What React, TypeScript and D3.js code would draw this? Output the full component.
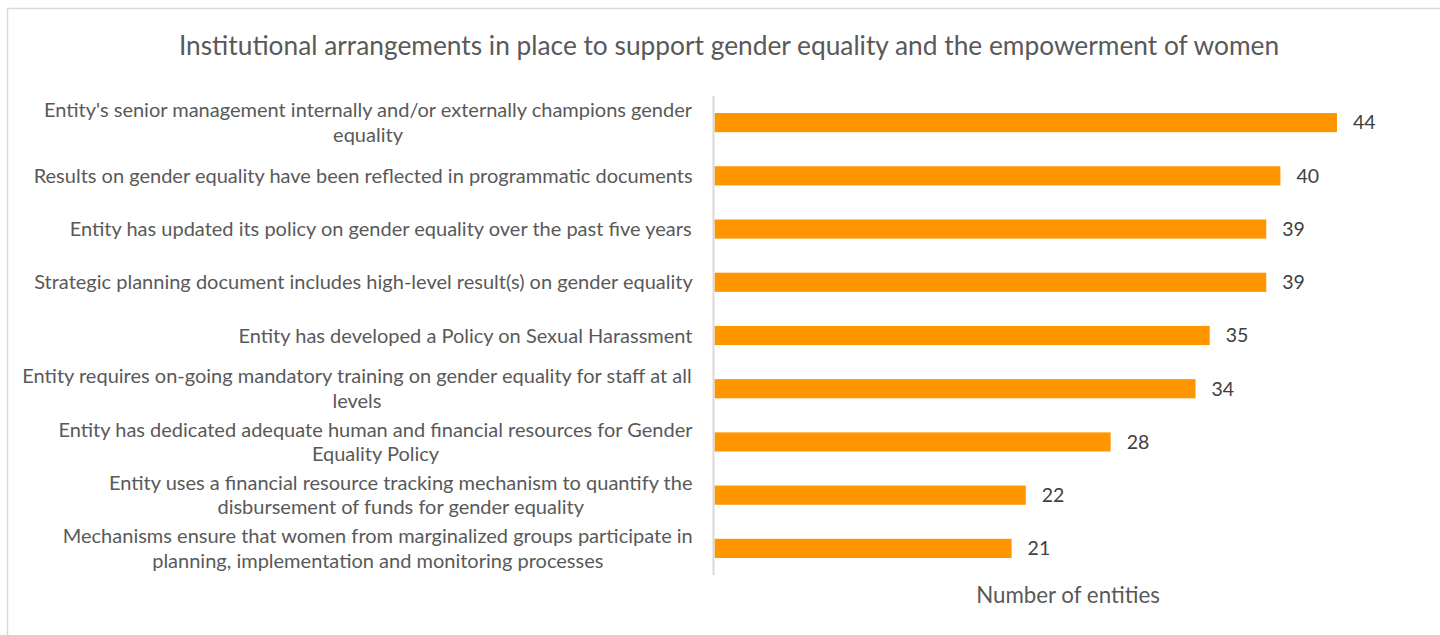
import React from "react";
import * as d3 from "d3";

const title = "Institutional arrangements in place to support gender equality and the empowerment of women";
const axisTitle = "Number of entities";

const categories = [
  "Entity's senior management internally and/or externally champions gender\nequality",
  "Results on gender equality have been reflected in programmatic documents",
  "Entity has updated its policy on gender equality over the past five years",
  "Strategic planning document includes high-level result(s) on gender equality",
  "Entity has developed a Policy on Sexual Harassment",
  "Entity requires on-going mandatory training on gender equality for staff at all\nlevels",
  "Entity has dedicated adequate human and financial resources for Gender\nEquality Policy",
  "Entity uses a financial resource tracking mechanism to quantify the\ndisbursement of funds for gender equality",
  "Mechanisms ensure that women from marginalized groups participate in\nplanning, implementation and monitoring processes",
];
const values = [44, 40, 39, 39, 35, 34, 28, 22, 21];

const W = 1440;
const H = 635;
const FONT = "Lato, 'Open Sans', sans-serif";
const LABEL_SIZE = 20;

let ctx: CanvasRenderingContext2D | null = null;
function measure(s: string, size: number) {
  if (!ctx) ctx = document.createElement("canvas").getContext("2d");
  if (!ctx) return s.length * size * 0.45;
  ctx.font = `${size}px Lato`;
  return ctx.measureText(s).width;
}

export default function App() {
  const x = d3.scaleLinear().domain([0, 44]).range([714.5, 1337]);
  const y = d3
    .scaleBand<number>()
    .domain(d3.range(categories.length))
    .range([96, 575])
    .paddingInner(0.64)
    .paddingOuter(0.32);
  const bw = y.bandwidth();

  return (
    <svg
      width={W}
      height={H}
      style={{ position: "absolute", left: 0, top: 0, background: "#fff" }}
      fontFamily={FONT}
    >
      <rect x={7.5} y={8.5} width={W + 20} height={H + 20} fill="#fff" stroke="#D9D9D9" strokeWidth={1.5} />
      <text x={729} y={46} dy="0.35em" textAnchor="middle" fontSize={26.3} fill="#595959">
        {title}
      </text>
      {categories.map((c, i) => {
        const lines = c.split("\n");
        const cy = (y(i) as number) + bw / 2;
        const lh = 24.5;
        const maxW = d3.max(lines, (l) => measure(l, LABEL_SIZE)) as number;
        const cx = 693 - maxW / 2;
        return (
          <text key={"l" + i} x={cx} textAnchor="middle" fontSize={LABEL_SIZE} fill="#595959">
            {lines.map((ln, j) => (
              <tspan key={j} x={cx} y={cy + (j - (lines.length - 1) / 2) * lh} dy="0.35em">
                {ln}
              </tspan>
            ))}
          </text>
        );
      })}
      {values.map((v, i) => (
        <rect
          key={"b" + i}
          x={x(0)}
          y={y(i) as number}
          width={x(v) - x(0)}
          height={bw}
          fill="#FF9500"
        />
      ))}
      {values.map((v, i) => (
        <text
          key={"v" + i}
          x={x(v) + 16}
          y={(y(i) as number) + bw / 2}
          dy="0.35em"
          fontSize={19.5}
          fill="#404040"
        >
          {v}
        </text>
      ))}
      <line x1={713.5} x2={713.5} y1={96} y2={575} stroke="#D9D9D9" strokeWidth={2} />
      <text x={1068} y={595} dy="0.35em" textAnchor="middle" fontSize={22.3} fill="#595959">
        {axisTitle}
      </text>
    </svg>
  );
}
